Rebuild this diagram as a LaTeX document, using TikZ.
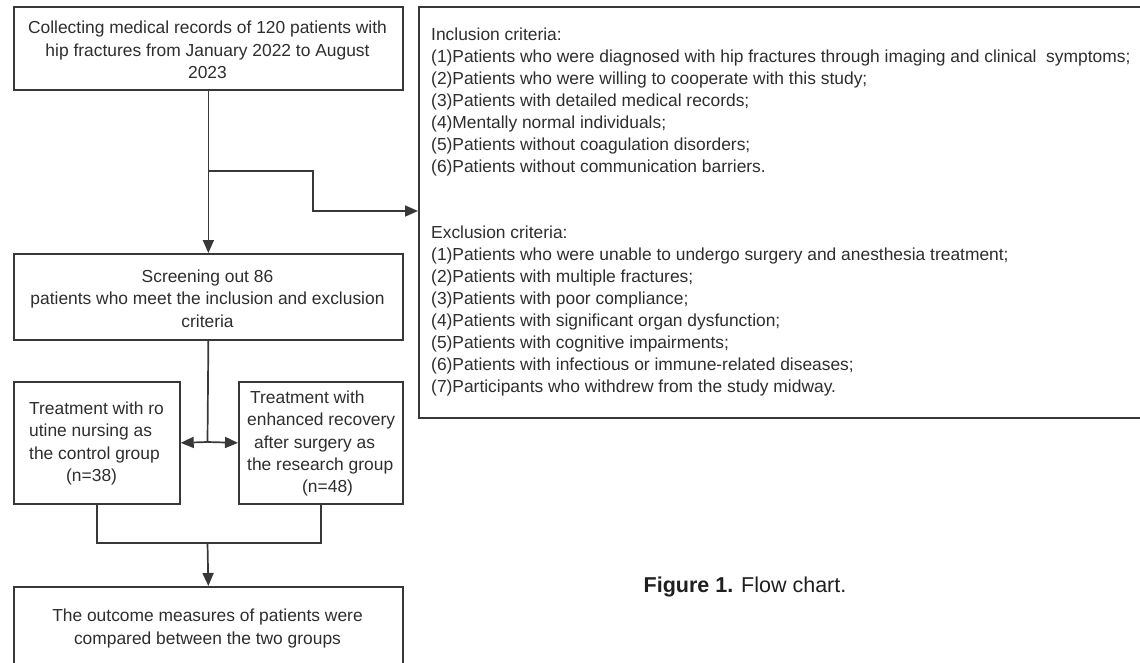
\documentclass[tikz,border=0pt]{standalone}
\usepackage{fontspec}
\setmainfont{Liberation Sans}
\usetikzlibrary{arrows.meta}
\definecolor{ink}{HTML}{2E2E2E}
\definecolor{linec}{HTML}{383838}
\tikzset{
  box/.style={draw=linec, line width=1.7pt, rectangle, inner sep=0pt, anchor=north west},
  txt/.style={text=ink, inner sep=0pt, font=\fontsize{17.4}{22.4}\selectfont},
  conn/.style={draw=linec, line width=1.7pt},
  arr/.style={conn, -{Triangle[length=13pt,width=11pt]}},
}
\begin{document}
\begin{tikzpicture}[x=1pt,y=-1pt]
\useasboundingbox (0,0) rectangle (1140,663);
\clip (0,0) rectangle (1140,663);
\fill[white] (0,0) rectangle (1140,663);
% boxes
\node[box, minimum width=389pt, minimum height=83pt] (top) at (13,6) {};
\node[box, minimum width=760pt, minimum height=411pt] (crit) at (418,6) {};
\node[box, minimum width=389pt, minimum height=86pt] (screen) at (13,253) {};
\node[box, minimum width=166pt, minimum height=122pt] (ctrl) at (13,381) {};
\node[box, minimum width=164pt, minimum height=122pt] (res) at (238,381) {};
\node[box, minimum width=389pt, minimum height=120pt] (out) at (13,586) {};
% texts
\node[txt, align=center] (toptxt) at (207.5,50) {Collecting medical records of 120 patients with\\hip fractures from January 2022 to August\\2023};
\node[txt, align=center] (screentxt) at (207.5,298.5) {Screening out 86\\patients who meet the inclusion and exclusion\\criteria};
\node[txt, align=left, anchor=west] (ctrltxt) at (29,443.5) {Treatment with ro\\utine nursing as\\the control group\\\hspace*{37pt}(n=38)};
\node[txt, align=left, anchor=west] (restxt) at (247,443.5) {\hspace*{3pt}Treatment with\\enhanced recovery\\\hspace*{7pt}after surgery as\\the research group\\\hspace*{55pt}(n=48)};
\node[txt, align=center] (outtxt) at (207.5,628.5) {The outcome measures of patients were\\compared between the two groups};
\node[txt, align=left, anchor=north west, font=\fontsize{17.4}{22}\selectfont] (incl) at (431,27.5) {Inclusion criteria:\\
(1)Patients who were diagnosed with hip fractures through imaging and clinical\ \ symptoms;\\
(2)Patients who were willing to cooperate with this study;\\
(3)Patients with detailed medical records;\\
(4)Mentally normal individuals;\\
(5)Patients without coagulation disorders;\\
(6)Patients without communication barriers.};
\node[txt, align=left, anchor=north west, font=\fontsize{17.4}{22}\selectfont] (excl) at (431,225.5) {Exclusion criteria:\\
(1)Patients who were unable to undergo surgery and anesthesia treatment;\\
(2)Patients with multiple fractures;\\
(3)Patients with poor compliance;\\
(4)Patients with significant organ dysfunction;\\
(5)Patients with cognitive impairments;\\
(6)Patients with infectious or immune-related diseases;\\
(7)Participants who withdrew from the study midway.};
\node[text=black!88, inner sep=0pt, font=\fontsize{21.5}{24}\selectfont] (cap) at (745,587) {\textbf{Figure 1.} Flow chart.};
% connectors
\coordinate (br) at (207.5,171);
\coordinate (split) at (207.5,442);
\coordinate (join) at (207.5,543);
\draw[arr] (top.south) -- (screen.north);
\draw[arr] (br) -- (313,171) -- (313,211) -- (crit.west |- 0,211);
\draw[conn] (screen.south) -- (split);
\draw[arr] (split) -- (ctrl.east);
\draw[arr] (split) -- (res.west);
\draw[conn] (ctrl.south) |- (join) -| (res.south);
\draw[arr] (join) -- (out.north);
\end{tikzpicture}
\end{document}
